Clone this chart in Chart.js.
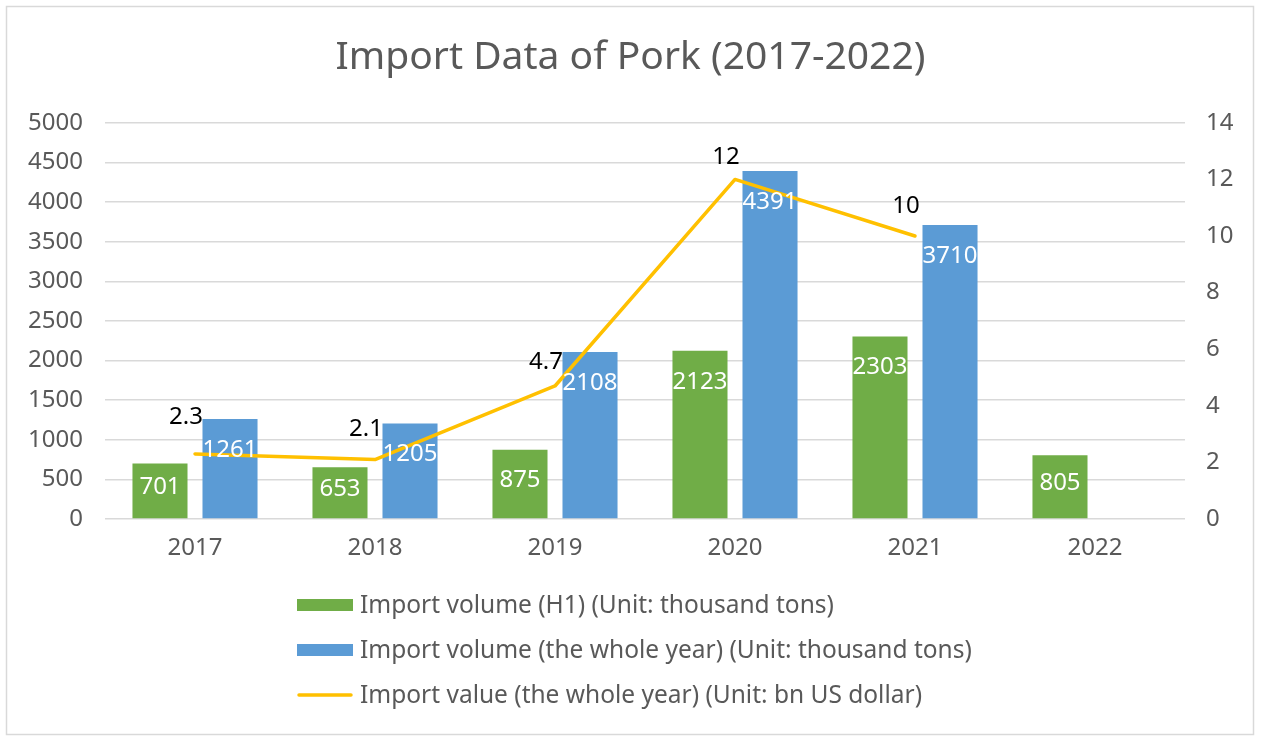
<!DOCTYPE html>
<html>
<head>
<meta charset="utf-8">
<title>Import Data of Pork (2017-2022)</title>
<script src="https://cdn.jsdelivr.net/npm/chart.js@4.4.1/dist/chart.umd.min.js"></script>
<style>
  html, body { margin: 0; padding: 0; background: #fff; }
  #wrap { position: relative; width: 1261px; height: 743px; }
</style>
</head>
<body>
<div id="wrap"><canvas id="porkChart"></canvas></div>
<script>
// data
const years = ['2017', '2018', '2019', '2020', '2021', '2022'];
const volumeH1 = [701, 653, 875, 2123, 2303, 805];          // thousand tons
const volumeYear = [1261, 1205, 2108, 4391, 3710, null];    // thousand tons
const valueYear = [2.3, 2.1, 4.7, 12, 10, null];            // bn US dollar
const leftTicks = [0, 500, 1000, 1500, 2000, 2500, 3000, 3500, 4000, 4500, 5000];
const rightTicks = [0, 2, 4, 6, 8, 10, 12, 14];

const FONT = '"Noto Sans", "DejaVu Sans", sans-serif';
const GREY = '#595959';

// light frame around the whole chart
const framePlugin = {
    id: 'frame',
    beforeDraw(chart) {
        const c = chart.ctx;
        c.save();
        c.fillStyle = '#fff';
        c.fillRect(0, 0, chart.width, chart.height);
        c.strokeStyle = '#D9D9D9';
        c.lineWidth = 1.5;
        c.strokeRect(6.5, 6.5, chart.width - 14, chart.height - 15);
        c.restore();
    }
};

// white numbers inside the bars, black numbers over the line
const valueLabels = {
    id: 'valueLabels',
    afterDatasetsDraw(chart, args, opts) {
        const c = chart.ctx;
        c.save();
        c.textAlign = 'center';
        c.textBaseline = 'middle';
        c.font = '24px ' + FONT;
        chart.data.datasets.forEach((ds, i) => {
            const meta = chart.getDatasetMeta(i);
            meta.data.forEach((el, j) => {
                const v = ds.data[j];
                if (v === null || v === undefined) return;
                if (ds.type === 'line') {
                    c.fillStyle = '#000';
                    c.fillText(String(v), el.x - 9, el.y + opts.lineOffsets[j]);
                } else {
                    c.fillStyle = '#fff';
                    const y = Math.min(el.y + 31, (el.y + el.base) / 2 - 4);
                    c.fillText(String(v), el.x, y);
                }
            });
        });
        c.restore();
    }
};

// vertical legend under the plot
const stackedLegend = {
    id: 'stackedLegend',
    afterDraw(chart, args, opts) {
        const c = chart.ctx;
        c.save();
        c.font = '24.5px ' + FONT;
        c.textBaseline = 'middle';
        c.textAlign = 'left';
        chart.data.datasets.forEach((ds, i) => {
            const y = opts.top + i * opts.step;
            if (ds.type === 'line') {
                c.strokeStyle = ds.borderColor;
                c.lineWidth = 3.5;
                c.lineCap = 'round';
                c.beginPath();
                c.moveTo(opts.left + 2, y);
                c.lineTo(opts.left + 54, y);
                c.stroke();
            } else {
                c.fillStyle = ds.backgroundColor;
                c.fillRect(opts.left, y - 6, 56, 12);
            }
            c.fillStyle = GREY;
            c.fillText(ds.label, opts.left + 63, y + 1);
        });
        c.restore();
    }
};

const plainTick = v => String(v);

const ctx = document.getElementById('porkChart').getContext('2d');
new Chart(ctx, {
    type: 'bar',
    data: {
        labels: years,
        datasets: [
            {
                label: 'Import volume (H1) (Unit: thousand tons)',
                data: volumeH1,
                backgroundColor: '#70AD47',
                categoryPercentage: 0.778,
                barPercentage: 0.786,
                yAxisID: 'y',
                order: 1
            },
            {
                label: 'Import volume (the whole year) (Unit: thousand tons)',
                data: volumeYear,
                backgroundColor: '#5B9BD5',
                categoryPercentage: 0.778,
                barPercentage: 0.786,
                yAxisID: 'y',
                order: 1
            },
            {
                type: 'line',
                label: 'Import value (the whole year) (Unit: bn US dollar)',
                data: valueYear,
                borderColor: '#FFC000',
                borderWidth: 3.5,
                borderCapStyle: 'round',
                borderJoinStyle: 'round',
                pointRadius: 0,
                tension: 0,
                spanGaps: false,
                yAxisID: 'y2',
                order: 0
            }
        ]
    },
    options: {
        responsive: true,
        maintainAspectRatio: false,
        animation: false,
        layout: { padding: { left: 0, right: 0, top: 0, bottom: 174 } },
        plugins: {
            legend: { display: false },
            tooltip: { enabled: false },
            title: {
                display: true,
                text: 'Import Data of Pork (2017-2022)',
                color: GREY,
                font: { family: FONT, size: 39, weight: 'normal', lineHeight: 1.2 },
                padding: { top: 34, bottom: 42 }
            },
            valueLabels: { lineOffsets: [-37, -30, -24, -22, -30, 0] },
            stackedLegend: { left: 297, top: 605, step: 45 }
        },
        scales: {
            x: {
                grid: { display: false, drawTicks: false },
                border: { display: false },
                ticks: { color: GREY, padding: 15, font: { family: FONT, size: 24 } },
                afterFit(scale) { scale.height = 50; }
            },
            y: {
                position: 'left',
                min: 0,
                max: 5000,
                grid: { color: '#D9D9D9', lineWidth: 1.5, drawTicks: false },
                border: { display: false },
                ticks: { color: GREY, padding: 22, font: { family: FONT, size: 24 }, callback: plainTick },
                afterBuildTicks(scale) { scale.ticks = leftTicks.map(v => ({ value: v })); },
                afterFit(scale) { scale.width = 105; }
            },
            y2: {
                position: 'right',
                min: 0,
                max: 14,
                grid: { display: false, drawTicks: false },
                border: { display: false },
                ticks: { color: GREY, padding: 21, font: { family: FONT, size: 24 }, callback: plainTick },
                afterBuildTicks(scale) { scale.ticks = rightTicks.map(v => ({ value: v })); },
                afterFit(scale) { scale.width = 76; }
            }
        }
    },
    plugins: [framePlugin, valueLabels, stackedLegend]
});
</script>
</body>
</html>
